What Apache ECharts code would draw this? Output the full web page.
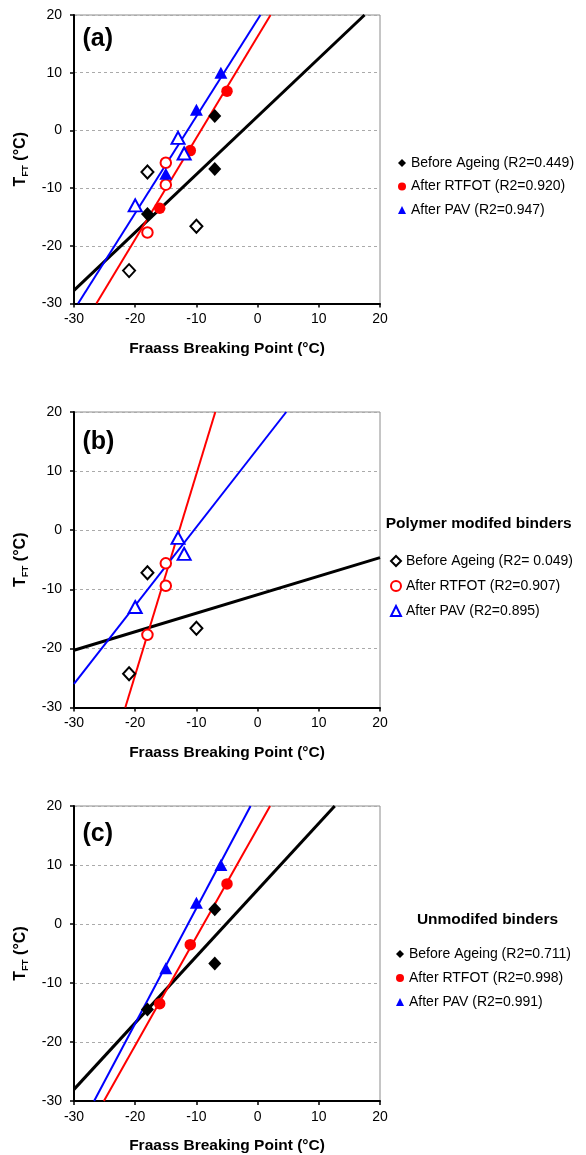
<!DOCTYPE html>
<html><head><meta charset="utf-8">
<script src="https://cdn.jsdelivr.net/npm/echarts@6/dist/echarts.min.js"></script>
<style>html,body{margin:0;padding:0;background:#fff}#c{width:586px;height:1155px}</style>
</head><body><div id="c"></div>
<script>
// ---- data (x = Fraass Breaking Point °C, y = T_FT °C) ----
const beforeUnmod = [[-18, -14.5], [-7, 2.5], [-7, -6.7]];
const beforePoly  = [[-18, -7.2], [-21, -24.3], [-10, -16.6]];
const rtfotUnmod  = [[-16, -13.5], [-11, -3.5], [-5, 6.8]];
const rtfotPoly   = [[-15, -5.6], [-15, -9.4], [-18, -17.7]];
const pavUnmod    = [[-15, -7.5], [-10, 3.6], [-6, 10]];
const pavPoly     = [[-20, -13], [-13, -1.3], [-12, -4]];

const panelLabels = ['(a)', '(b)', '(c)'];
const legendA = ['Before Ageing (R2=0.449)', 'After RTFOT (R2=0.920)', 'After PAV (R2=0.947)'];
const legendB = ['Before Ageing (R2= 0.049)', 'After RTFOT (R2=0.907)', 'After PAV (R2=0.895)'];
const legendC = ['Before Ageing (R2=0.711)', 'After RTFOT (R2=0.998)', 'After PAV (R2=0.991)'];
const groupTitles = ['Polymer modifed binders', 'Unmodifed binders'];
const xTicks = { min: -30, max: 20, interval: 10 };
const yTicks = { min: -30, max: 20, interval: 10 };

const FONT = '"Liberation Sans", Arial, sans-serif';
const BLACK = '#000000', RED = '#ff0000', BLUE = '#0000ff';

// least-squares trendline (as Excel draws), clipped to the axis box
function trend(pts) {
  const n = pts.length;
  const mx = pts.reduce((s, p) => s + p[0], 0) / n;
  const my = pts.reduce((s, p) => s + p[1], 0) / n;
  let sxy = 0, sxx = 0;
  pts.forEach(p => { sxy += (p[0] - mx) * (p[1] - my); sxx += (p[0] - mx) ** 2; });
  const b = sxy / sxx, a = my - b * mx;
  let x0 = xTicks.min, x1 = xTicks.max;
  const xa = (yTicks.min - a) / b, xb = (yTicks.max - a) / b;
  x0 = Math.max(x0, Math.min(xa, xb));
  x1 = Math.min(x1, Math.max(xa, xb));
  return [[x0, a + b * x0], [x1, a + b * x1]];
}

const grids = [
  { left: 74, width: 306, top: 15, height: 288.5 },
  { left: 74, width: 306, top: 412, height: 295.5 },
  { left: 74, width: 306, top: 806, height: 295.5 }
];

function xAxis(i) {
  return {
    type: 'value', gridIndex: i, min: xTicks.min, max: xTicks.max, interval: xTicks.interval,
    name: 'Fraass Breaking Point (°C)', nameLocation: 'middle', nameGap: 37,
    nameTextStyle: { fontFamily: FONT, fontSize: 15.5, fontWeight: 'bold', color: BLACK },
    axisLine: { onZero: false, lineStyle: { color: BLACK, width: 2 } },
    axisTick: { show: true, length: 4, lineStyle: { color: BLACK, width: 1.5 } },
    axisLabel: { fontFamily: FONT, fontSize: 14, color: BLACK, margin: 9 },
    splitLine: { show: false }
  };
}
function yAxis(i) {
  return {
    type: 'value', gridIndex: i, min: yTicks.min, max: yTicks.max, interval: yTicks.interval,
    name: '{t|T}{s|FT}{t| (°C)}', nameLocation: 'middle', nameGap: 36.5,
    nameTextStyle: {
      color: BLACK,
      rich: {
        t: { fontFamily: FONT, fontSize: 16, fontWeight: 'bold', color: BLACK, lineHeight: 20 },
        s: { fontFamily: FONT, fontSize: 9.5, fontWeight: 'bold', color: BLACK, verticalAlign: 'bottom', lineHeight: 20 }
      }
    },
    axisLine: { onZero: false, lineStyle: { color: BLACK, width: 2 } },
    axisTick: { show: true, length: 4, lineStyle: { color: BLACK, width: 1.5 } },
    axisLabel: { fontFamily: FONT, fontSize: 14, color: BLACK, margin: 12 },
    splitLine: { show: true, lineStyle: { color: '#aaaaaa', type: [3, 3], width: 1 } }
  };
}

function lineS(i, pts, color, w) {
  return { type: 'line', xAxisIndex: i, yAxisIndex: i, data: trend(pts), symbol: 'none',
    showSymbol: false, silent: true, z: 2, lineStyle: { color: color, width: w }, clip: true };
}
function scat(i, name, pts, symbol, size, color, open) {
  return { type: 'scatter', name: name, xAxisIndex: i, yAxisIndex: i, data: pts, symbol: symbol,
    symbolSize: size, z: 3,
    itemStyle: open ? { color: '#ffffff', borderColor: color, borderWidth: 2, opacity: 1 }
                    : { color: color, borderWidth: 0, opacity: 1 } };
}

const S = {
  dFill: [13, 14], dOpen: [12, 13],
  cFill: 11.5, cOpen: 10.5,
  tFill: [13, 12], tOpen: [13, 12]
};

const series = [
  // panel (a): all binders
  lineS(0, beforeUnmod.concat(beforePoly), BLACK, 3),
  lineS(0, rtfotUnmod.concat(rtfotPoly), RED, 2),
  lineS(0, pavUnmod.concat(pavPoly), BLUE, 2),
  scat(0, legendA[0], beforeUnmod, 'diamond', S.dFill, BLACK, false),
  scat(0, 'a-before-poly', beforePoly, 'diamond', S.dOpen, BLACK, true),
  scat(0, legendA[1], rtfotUnmod, 'circle', S.cFill, RED, false),
  scat(0, 'a-rtfot-poly', rtfotPoly, 'circle', S.cOpen, RED, true),
  scat(0, legendA[2], pavUnmod, 'triangle', S.tFill, BLUE, false),
  scat(0, 'a-pav-poly', pavPoly, 'triangle', S.tOpen, BLUE, true),
  // panel (b): polymer modified binders
  lineS(1, beforePoly, BLACK, 3),
  lineS(1, rtfotPoly, RED, 2),
  lineS(1, pavPoly, BLUE, 2),
  scat(1, legendB[0], beforePoly, 'diamond', S.dOpen, BLACK, true),
  scat(1, legendB[1], rtfotPoly, 'circle', S.cOpen, RED, true),
  scat(1, legendB[2], pavPoly, 'triangle', S.tOpen, BLUE, true),
  // panel (c): unmodified binders
  lineS(2, beforeUnmod, BLACK, 3),
  lineS(2, rtfotUnmod, RED, 2),
  lineS(2, pavUnmod, BLUE, 2),
  scat(2, legendC[0], beforeUnmod, 'diamond', S.dFill, BLACK, false),
  scat(2, legendC[1], rtfotUnmod, 'circle', S.cFill, RED, false),
  scat(2, legendC[2], pavUnmod, 'triangle', S.tFill, BLUE, false)
];

function legend(names, left, top, gap, iw, ih) {
  const icons = ['diamond', 'circle', 'triangle'];
  return {
    orient: 'vertical', left: left, top: top, padding: 0, itemGap: gap,
    itemWidth: iw, itemHeight: ih, selectedMode: false,
    textStyle: { fontFamily: FONT, fontSize: 14, color: BLACK, lineHeight: 14 },
    data: names.map((n, k) => ({ name: n, icon: icons[k] }))
  };
}

const graphic = [
  { type: 'text', x: 82.5, y: 39, style: { text: panelLabels[0], font: 'bold 25px ' + FONT, fill: BLACK, align: 'left', verticalAlign: 'middle' } },
  { type: 'text', x: 82.5, y: 442, style: { text: panelLabels[1], font: 'bold 25px ' + FONT, fill: BLACK, align: 'left', verticalAlign: 'middle' } },
  { type: 'text', x: 82.5, y: 834, style: { text: panelLabels[2], font: 'bold 25px ' + FONT, fill: BLACK, align: 'left', verticalAlign: 'middle' } },
  { type: 'text', x: 478.7, y: 524, style: { text: groupTitles[0], font: 'bold 15.5px ' + FONT, fill: BLACK, align: 'center', verticalAlign: 'middle' } },
  { type: 'text', x: 487.5, y: 920, style: { text: groupTitles[1], font: 'bold 15.5px ' + FONT, fill: BLACK, align: 'center', verticalAlign: 'middle' } }
];

const chart = echarts.init(document.getElementById('c'), null, { renderer: 'canvas' });
chart.setOption({
  animation: false,
  backgroundColor: '#ffffff',
  textStyle: { fontFamily: FONT },
  grid: grids.map(g => Object.assign({ show: true, borderColor: '#8c8c8c', borderWidth: 1, backgroundColor: 'transparent' }, g)),
  xAxis: [0, 1, 2].map(xAxis),
  yAxis: [0, 1, 2].map(yAxis),
  legend: [
    legend(legendA, 398, 156, 9.5, 8, 8),
    legend(legendB, 390, 554, 11, 10, 10),
    legend(legendC, 396, 947, 10, 8, 8)
  ],
  graphic: graphic,
  series: series
});
</script></body></html>
